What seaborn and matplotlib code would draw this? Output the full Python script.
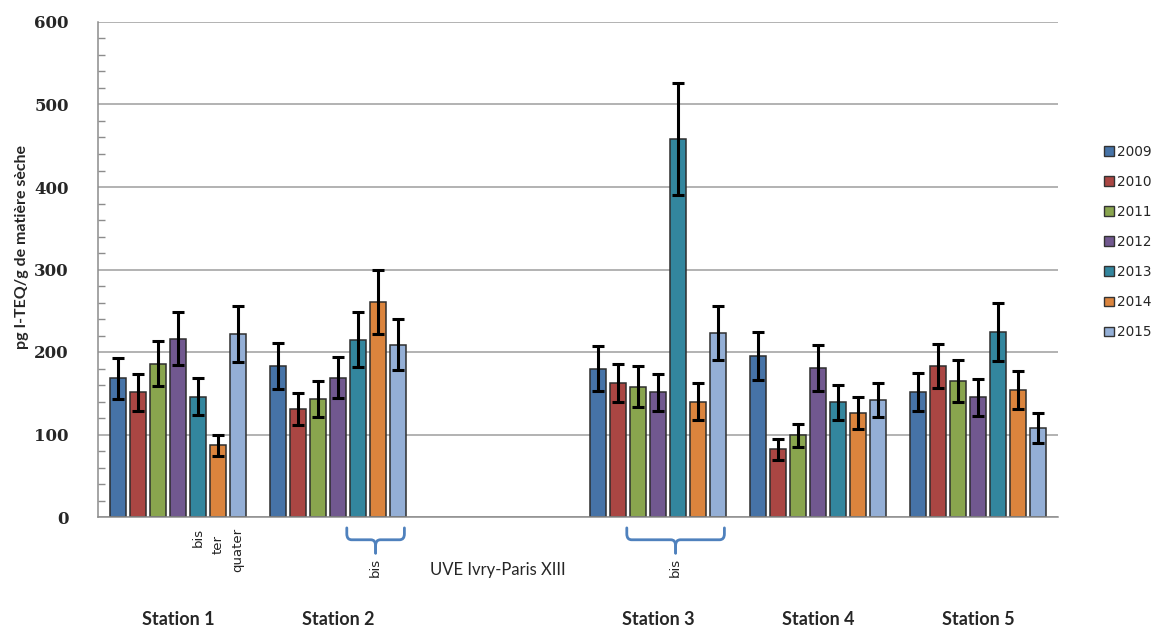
import numpy as np
import pandas as pd
import matplotlib
matplotlib.use("Agg")
import matplotlib.pyplot as plt
import matplotlib.transforms as mtransforms
from matplotlib.path import Path
from matplotlib.patches import PathPatch, Patch
from matplotlib.ticker import MultipleLocator
import seaborn as sns

# Category slots along the x axis (the plant itself has no measurement)
slots = ["Station 1", "Station 2", "UVE Ivry-Paris XIII", "Station 3", "Station 4", "Station 5"]
stations = ["Station 1", "Station 2", "Station 3", "Station 4", "Station 5"]
years = ["2009", "2010", "2011", "2012", "2013", "2014", "2015"]

# PCDD/F concentrations (pg I-TEQ/g dry matter), one list per year, stations 1..5
val_2009 = [168, 183, 180, 195, 152]
val_2010 = [151, 131, 163, 82, 183]
val_2011 = [186, 143, 158, 99, 165]
val_2012 = [216, 169, 151, 181, 145]
val_2013 = [146, 215, 458, 139, 224]
val_2014 = [87, 261, 140, 126, 154]
val_2015 = [222, 209, 223, 142, 108]

# Measurement uncertainty (half-length of the error bars)
err_2009 = [25, 28, 27, 29, 23]
err_2010 = [22, 19, 23, 13, 27]
err_2011 = [27, 22, 25, 14, 25]
err_2012 = [32, 25, 22, 28, 22]
err_2013 = [22, 33, 68, 21, 35]
err_2014 = [13, 39, 22, 19, 23]
err_2015 = [34, 31, 33, 21, 18]

colors = ["#4673A7", "#AA4643", "#89A54E", "#71588F", "#33869E", "#DB843D", "#94AFD6"]

values = [val_2009, val_2010, val_2011, val_2012, val_2013, val_2014, val_2015]
errors = [err_2009, err_2010, err_2011, err_2012, err_2013, err_2014, err_2015]

rows = []
for y, vals, errs in zip(years, values, errors):
    for s, v, e in zip(stations, vals, errs):
        rows.append({"slot": s, "year": y, "value": v, "err": e})
df = pd.DataFrame(rows)

sns.set_style("white")
plt.rcParams["font.family"] = ["DejaVu Sans"]

W, H = 1163, 628
fig = plt.figure(figsize=(W / 100, H / 100), dpi=100)
ax = fig.add_axes([98 / W, 1 - 517 / H, 960 / W, 495 / H])

sns.barplot(data=df, x="slot", y="value", hue="year", order=slots, hue_order=years,
            palette=colors, saturation=1, errorbar=None, width=0.875, gap=0.2,
            edgecolor="#2e2e2e", linewidth=1.1, legend=False, ax=ax, zorder=2)

# Error bars on top of each bar
bar_pos = {}
for year, cont in zip(years, ax.containers):
    for bar in cont.patches:
        xc = bar.get_x() + bar.get_width() / 2
        slot = slots[int(round(xc))]
        bar_pos[(slot, year)] = (bar.get_x(), bar.get_x() + bar.get_width(), xc)
        e = df.loc[(df.slot == slot) & (df.year == year), "err"].iloc[0]
        ax.errorbar(xc, bar.get_height(), yerr=e, fmt="none", ecolor="black",
                    elinewidth=2.2, capsize=4.5, capthick=2.2, zorder=3)

ax.set_xlim(-0.5, len(slots) - 0.5)
ax.set_ylim(0, 600)
ax.set_xticks(np.arange(-0.5, len(slots), 1.0))
ax.set_xticklabels([])
ax.set_xlabel("")
ax.set_yticks(np.arange(0, 601, 100))
ax.yaxis.set_minor_locator(MultipleLocator(20))
ax.tick_params(axis="x", direction="out", length=6, width=1, color="#8c8c8c")
ax.tick_params(axis="y", which="major", direction="out", length=6, width=1,
               color="#8c8c8c", pad=15, labelsize=12)
ax.tick_params(axis="y", which="minor", direction="in", length=5, width=1,
               color="#8c8c8c", left=True)
for lab in ax.get_yticklabels():
    lab.set_family("DejaVu Serif")
    lab.set_fontweight("bold")

ax.yaxis.grid(True, color="#a6a6a6", linewidth=1.2, zorder=0)
ax.set_axisbelow(True)
for side in ("top", "right"):
    ax.spines[side].set_visible(False)
for side in ("left", "bottom"):
    ax.spines[side].set_color("#8c8c8c")
    ax.spines[side].set_linewidth(1.1)

ax.set_ylabel("pg I-TEQ/g de matière sèche", fontsize=11.5, fontweight="bold",
              family="Lato", va="center")
ax.yaxis.set_label_coords(-0.079, 0.545)

trans = mtransforms.blended_transform_factory(ax.transData, ax.transAxes)

# Station names under each group, the plant name in the empty slot
for i, s in enumerate(slots):
    if s in stations:
        ax.text(i, -0.208, s, transform=trans, ha="center", va="center",
                fontsize=13, fontweight="bold", family="Lato")
    else:
        ax.text(i, -0.107, s, transform=trans, ha="center", va="center",
                fontsize=12, family="Lato")

# Variant sampling points at Station 1
for year, txt, ytop in [("2013", "bis", -0.022), ("2014", "ter", -0.036), ("2015", "quater", -0.022)]:
    xc = bar_pos[("Station 1", year)][2]
    ax.text(xc, ytop, txt, transform=trans, rotation=90, ha="center", va="top",
            fontsize=9.5, color="#222222")


def brace(xa, xb, yt, ym, yb, rx, ry, color="#4F81BD"):
    xm = (xa + xb) / 2
    for x_end, sgn in ((xa, 1), (xb, -1)):
        verts = [(x_end, yt), (x_end, ym + ry), (x_end, ym), (x_end + sgn * rx, ym),
                 (xm - sgn * rx, ym), (xm, ym), (xm, ym - ry), (xm, yb)]
        codes = [Path.MOVETO, Path.LINETO, Path.CURVE3, Path.CURVE3,
                 Path.LINETO, Path.CURVE3, Path.CURVE3, Path.LINETO]
        ax.add_patch(PathPatch(Path(verts, codes), transform=trans, fill=False,
                               edgecolor=color, linewidth=2, clip_on=False,
                               capstyle="round", joinstyle="round"))
    return xm


# Braces grouping the "bis" sampling point years
for station, y_first, y_last in [("Station 2", "2013", "2015"), ("Station 3", "2011", "2015")]:
    xa = bar_pos[(station, y_first)][0] - 0.02
    xb = bar_pos[(station, y_last)][1] - 0.01
    xm = brace(xa, xb, -0.022, -0.046, -0.073, 0.03, 0.012)
    ax.text(xm, -0.082, "bis", transform=trans, rotation=90, ha="center", va="top",
            fontsize=9.5, color="#222222")

handles = [Patch(facecolor=c, edgecolor="#333333", linewidth=1) for c in colors]
fig.legend(handles, years, loc="center left", bbox_to_anchor=(1097 / W, 1 - 242 / H),
           frameon=False, fontsize=9.8, handlelength=0.72, handleheight=0.72,
           handletextpad=0.25, labelspacing=1.18, borderpad=0)

fig.savefig("out.png", dpi=100)
